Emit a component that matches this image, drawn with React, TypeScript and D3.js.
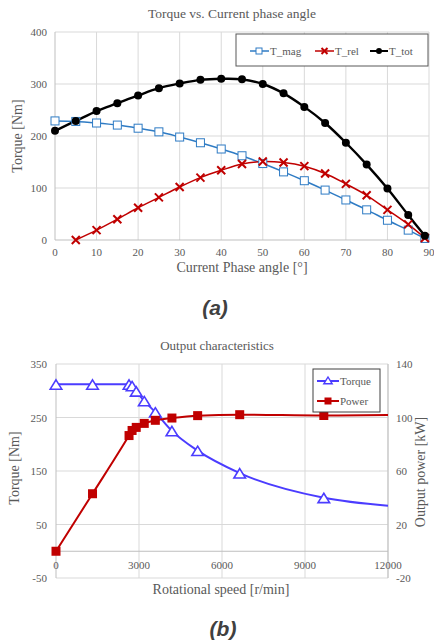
import React from 'react';
import * as d3 from 'd3';

// chart (a) data
const angles = [0, 5, 10, 15, 20, 25, 30, 35, 40, 45, 50, 55, 60, 65, 70, 75, 80, 85, 89];
const tMag = [229, 228, 225, 221, 215, 208, 198, 187, 175, 162, 147, 131, 114, 96, 77, 58, 38, 19, 3];
const tRel = [null, 0, 19, 40, 62, 82, 102, 120, 134, 146, 151, 149, 142, 128, 108, 86, 58, 30, 4];
const tTot = [210, 229, 248, 263, 278, 292, 301, 308, 310, 309, 300, 282, 256, 225, 187, 145, 99, 48, 8];
const angleTicks = [0, 10, 20, 30, 40, 50, 60, 70, 80, 90];
const torqueTicksA = [0, 100, 200, 300, 400];

// chart (b) data
const speed = [0, 1320, 2640, 2750, 2900, 3190, 3590, 4190, 5120, 6640, 9680, 12000];
const torqueB = [312, 312, 312, 309, 299, 281, 260, 225, 188, 146, 100, 85];
const powerB = [0, 43, 86.5, 90.3, 92.6, 95.6, 97.9, 99.6, 101.4, 102.1, 101.5, 101.8];
const speedTicks = [0, 3000, 6000, 9000, 12000];
const torqueTicksB = [-50, 50, 150, 250, 350];
const powerTicks = [-20, 20, 60, 100, 140];

const TXT = '#595959';
const GRID = '#d9d9d9';
const SERIF = '"Liberation Serif", "Times New Roman", serif';
const BLUE = '#2e7bc4';
const RED = '#c00000';
const VIOLET = '#4b3cff';

const ChartA = () => {
  const x = d3.scaleLinear().domain([0, 90]).range([55, 429]);
  const y = d3.scaleLinear().domain([0, 400]).range([240, 32]);
  const mk = (vals: (number | null)[]) =>
    d3
      .line<number>()
      .defined((_, i) => vals[i] != null)
      .x((_, i) => x(angles[i]))
      .y((v) => y(v))
      .curve(d3.curveCatmullRom.alpha(0.5))(vals as number[]) || '';

  return (
    <g>
      <text x={232} y={18} textAnchor="middle" fontFamily={SERIF} fontSize={13.5} fill={TXT}>
        Torque vs. Current phase angle
      </text>
      {angleTicks.slice(1).map((t) => (
        <line key={'gx' + t} x1={x(t)} x2={x(t)} y1={y(400)} y2={y(0)} stroke={GRID} />
      ))}
      {torqueTicksA.slice(1).map((t) => (
        <line key={'gy' + t} x1={x(0)} x2={x(90)} y1={y(t)} y2={y(t)} stroke={GRID} />
      ))}
      <line x1={x(0)} x2={x(90)} y1={y(0)} y2={y(0)} stroke="#bfbfbf" />
      <line x1={x(0)} x2={x(0)} y1={y(0)} y2={y(400)} stroke="#bfbfbf" />
      {torqueTicksA.map((t) => (
        <text key={'ty' + t} x={x(0) - 8} y={y(t) + 4} textAnchor="end" fontFamily={SERIF} fontSize={11} fill={TXT}>
          {t}
        </text>
      ))}
      {angleTicks.map((t) => (
        <text key={'tx' + t} x={x(t)} y={256} textAnchor="middle" fontFamily={SERIF} fontSize={11} fill={TXT}>
          {t}
        </text>
      ))}
      <text x={242} y={272} textAnchor="middle" fontFamily={SERIF} fontSize={14} fill={TXT}>
        Current Phase angle [°]
      </text>
      <text
        transform={`translate(22, ${y(200)}) rotate(-90)`}
        textAnchor="middle"
        fontFamily={SERIF}
        fontSize={14}
        fill={TXT}
      >
        Torque [Nm]
      </text>

      <path d={mk(tMag)} fill="none" stroke={BLUE} strokeWidth={1.5} />
      <path d={mk(tRel)} fill="none" stroke={RED} strokeWidth={1.5} />
      <path d={mk(tTot)} fill="none" stroke="#000" strokeWidth={2.4} />

      {tMag.map((v, i) => (
        <rect key={'m' + i} x={x(angles[i]) - 4} y={y(v) - 4} width={8} height={8} fill="#fff" stroke={BLUE} strokeWidth={1} />
      ))}
      {tRel.map((v, i) =>
        v == null ? null : (
          <path
            key={'r' + i}
            d={`M${x(angles[i]) - 4},${y(v) - 4}L${x(angles[i]) + 4},${y(v) + 4}M${x(angles[i]) - 4},${y(v) + 4}L${x(angles[i]) + 4},${y(v) - 4}`}
            stroke={RED}
            strokeWidth={2}
          />
        )
      )}
      {tTot.map((v, i) => (
        <circle key={'t' + i} cx={x(angles[i])} cy={y(v)} r={4} fill="#000" />
      ))}

      <rect x={236} y={34} width={192} height={32} fill="#fff" stroke="#595959" strokeWidth={1} />
      <line x1={250} x2={269} y1={51} y2={51} stroke={BLUE} strokeWidth={1.5} />
      <rect x={256} y={48} width={6} height={6} fill="#fff" stroke={BLUE} />
      <text x={270} y={55} fontFamily={SERIF} fontSize={11} fill={TXT}>T_mag</text>
      <line x1={315} x2={334} y1={51} y2={51} stroke={RED} strokeWidth={1.5} />
      <path d="M321.5,48L327.5,54M321.5,54L327.5,48" stroke={RED} strokeWidth={2} />
      <text x={335} y={55} fontFamily={SERIF} fontSize={11} fill={TXT}>T_rel</text>
      <line x1={370} x2={388} y1={51} y2={51} stroke="#000" strokeWidth={2} />
      <circle cx={379} cy={51} r={3} fill="#000" />
      <text x={389} y={55} fontFamily={SERIF} fontSize={11} fill={TXT}>T_tot</text>

      <text x={215} y={315} textAnchor="middle" fontFamily='"Liberation Sans", Arial, sans-serif' fontSize={21} fontWeight="bold" fontStyle="italic" fill="#404040">
        (a)
      </text>
    </g>
  );
};

const ChartB = () => {
  const x = d3.scaleLinear().domain([0, 12000]).range([56, 388]);
  const y = d3.scaleLinear().domain([-50, 350]).range([578, 364]);
  const yp = d3.scaleLinear().domain([-20, 140]).range([578, 364]);
  const torqueLine = d3
    .line<number>()
    .x((_, i) => x(speed[i]))
    .y((v) => y(v))
    .curve(d3.curveMonotoneX)(torqueB) || '';
  const powerLine = d3
    .line<number>()
    .x((_, i) => x(speed[i]))
    .y((v) => yp(v))
    .curve(d3.curveMonotoneX)(powerB) || '';
  const tri = (cx: number, cy: number, s: number) =>
    `M${cx},${cy - s}L${cx + s * 1.05},${cy + s * 0.7}L${cx - s * 1.05},${cy + s * 0.7}Z`;

  return (
    <g>
      <text x={217} y={350} textAnchor="middle" fontFamily={SERIF} fontSize={13} fill={TXT}>
        Output characteristics
      </text>
      {speedTicks.slice(1).map((t) => (
        <line key={'gx' + t} x1={x(t)} x2={x(t)} y1={y(350)} y2={y(-50)} stroke={GRID} />
      ))}
      {torqueTicksB.map((t) => (
        <line key={'gy' + t} x1={x(0)} x2={x(12000)} y1={y(t)} y2={y(t)} stroke={GRID} />
      ))}
      <line x1={x(0)} x2={x(12000)} y1={y(0)} y2={y(0)} stroke="#bfbfbf" />
      <line x1={x(0)} x2={x(0)} y1={y(-50)} y2={y(350)} stroke="#bfbfbf" />
      <line x1={x(12000)} x2={x(12000)} y1={y(-50)} y2={y(350)} stroke="#bfbfbf" />
      {torqueTicksB.map((t) => (
        <text key={'ty' + t} x={x(0) - 9} y={y(t) + 4} textAnchor="end" fontFamily={SERIF} fontSize={11} fill={TXT}>
          {t}
        </text>
      ))}
      {powerTicks.map((t) => (
        <text key={'tp' + t} x={x(12000) + 8} y={yp(t) + 4} textAnchor="start" fontFamily={SERIF} fontSize={11} fill={TXT}>
          {t}
        </text>
      ))}
      {speedTicks.map((t) => (
        <text key={'tx' + t} x={x(t)} y={569} textAnchor="middle" fontFamily={SERIF} fontSize={11} fill={TXT}>
          {t}
        </text>
      ))}
      <text x={221} y={594} textAnchor="middle" fontFamily={SERIF} fontSize={14} fill={TXT}>
        Rotational speed [r/min]
      </text>
      <text transform={`translate(19, 468) rotate(-90)`} textAnchor="middle" fontFamily={SERIF} fontSize={14} fill={TXT}>
        Torque [Nm]
      </text>
      <text transform={`translate(425, 472) rotate(-90)`} textAnchor="middle" fontFamily={SERIF} fontSize={14} fill={TXT}>
        Output power [kW]
      </text>

      <path d={torqueLine} fill="none" stroke={VIOLET} strokeWidth={2} />
      <path d={powerLine} fill="none" stroke={RED} strokeWidth={2} />
      {torqueB.map((v, i) =>
        speed[i] >= 12000 ? null : (
          <path key={'tq' + i} d={tri(x(speed[i]), y(v) + 1, 5.5)} fill="#fff" stroke={VIOLET} strokeWidth={1.6} />
        )
      )}
      {powerB.map((v, i) =>
        speed[i] >= 12000 ? null : (
          <rect key={'pw' + i} x={x(speed[i]) - 4.5} y={yp(v) - 4.5} width={9} height={9} fill={RED} />
        )
      )}

      <rect x={313} y={369} width={67} height={43} fill="#fff" stroke="#404040" strokeWidth={1} />
      <line x1={317} x2={339} y1={381} y2={381} stroke={VIOLET} strokeWidth={2} />
      <path d={tri(328, 381, 4)} fill="#fff" stroke={VIOLET} strokeWidth={1.4} />
      <text x={340} y={385} fontFamily={SERIF} fontSize={11} fill={TXT}>Torque</text>
      <line x1={317} x2={339} y1={401} y2={401} stroke={RED} strokeWidth={2} />
      <rect x={324.5} y={397.5} width={7} height={7} fill={RED} />
      <text x={340} y={405} fontFamily={SERIF} fontSize={11} fill={TXT}>Power</text>

      <text x={223} y={636} textAnchor="middle" fontFamily='"Liberation Sans", Arial, sans-serif' fontSize={21} fontWeight="bold" fontStyle="italic" fill="#404040">
        (b)
      </text>
    </g>
  );
};

const App = () => {
  return (
    <svg width={434} height={641} style={{ position: 'absolute', left: 0, top: 0, background: '#fff' }}>
      <rect width={434} height={641} fill="#fff" />
      <ChartA />
      <ChartB />
    </svg>
  );
};

export default App;
